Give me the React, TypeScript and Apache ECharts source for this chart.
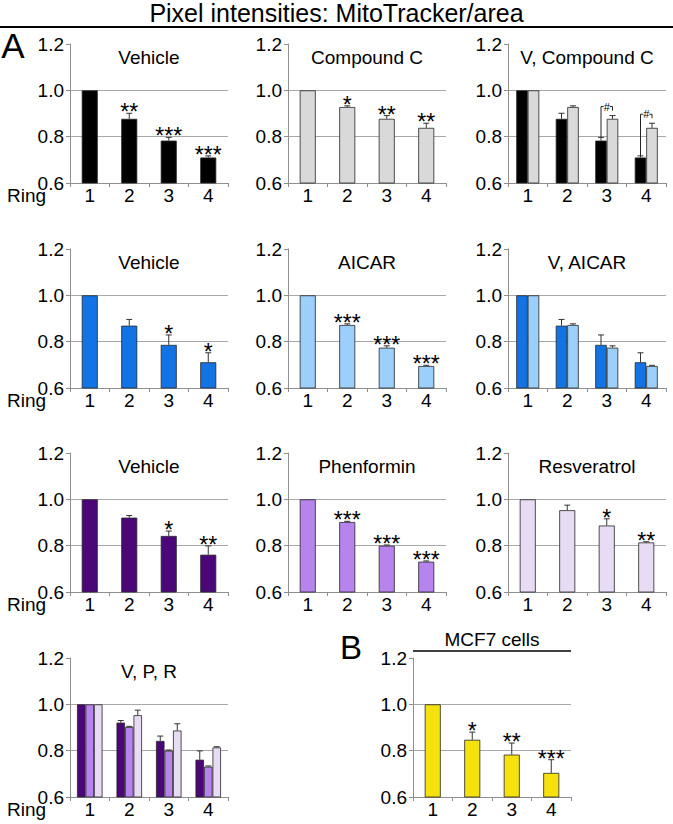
import React, { useEffect, useRef } from 'react';
import * as echarts from 'echarts';

// ---------- data ----------
const rings = ['1', '2', '3', '4'];
const yTickLabels = ['0.6', '0.8', '1.0', '1.2'];

// Row 1: Compound C experiment
const vehicleK = [1.0, 0.877, 0.783, 0.71];
const vehicleKErr = [0, 0.024, 0.014, 0.007];
const vehicleKSig = ['', '**', '***', '***'];
const compoundC = [1.0, 0.928, 0.877, 0.838];
const compoundCErr = [0, 0.005, 0.014, 0.02];
const compoundCSig = ['', '*', '**', '**'];
const vCompoundCSig = ['', '', '#', '#'];

// Row 2: AICAR experiment
const vehicleB = [1.0, 0.869, 0.786, 0.711];
const vehicleBErr = [0, 0.027, 0.043, 0.041];
const vehicleBSig = ['', '', '*', '*'];
const aicar = [1.0, 0.872, 0.774, 0.695];
const aicarErr = [0, 0.005, 0.008, 0.003];
const aicarSig = ['', '***', '***', '***'];

// Row 3: Phenformin / Resveratrol experiment
const vehicleP = [1.0, 0.921, 0.842, 0.761];
const vehiclePErr = [0, 0.009, 0.021, 0.038];
const vehiclePSig = ['', '', '*', '**'];
const phenformin = [1.0, 0.902, 0.8, 0.731];
const phenforminErr = [0, 0.003, 0.003, 0.003];
const phenforminSig = ['', '***', '***', '***'];
const resveratrol = [1.0, 0.953, 0.887, 0.814];
const resveratrolErr = [0, 0.022, 0.029, 0.003];
const resveratrolSig = ['', '', '*', '**'];

// Panel B: MCF7 cells
const mcf7 = [1.0, 0.847, 0.783, 0.704];
const mcf7Err = [0, 0.033, 0.05, 0.057];
const mcf7Sig = ['', '*', '**', '***'];

const noSig = ['', '', '', ''];

// ---------- styles ----------
const FONT = '"Liberation Sans", Arial, Helvetica, sans-serif';
const C_BLACK = '#000000';
const C_GRAY = '#d9d9d9';
const C_BLUE = '#1274e4';
const C_LBLUE = '#9dcffb';
const C_DPURPLE = '#4b0777';
const C_PURPLE = '#b784ee';
const C_LAVENDER = '#e8dcf5';
const C_YELLOW = '#f5e20c';
const AXIS = '#8f8f8f';
const GRID = '#a8a8a8';
const ERR = '#333333';
const FS = 19;

type BarSpec = { values: number[]; errors: number[]; sig: string[]; color: string };
type Panel = {
  title: string;
  left: number;
  top: number;
  bars: BarSpec[];
  ring: boolean;
  bracket?: string[];
};

const W = 158;
const H = 139;
const COLS = [70, 288, 508];
const ROWS = [44, 249, 453, 658];

const panels: Panel[] = [
  { title: 'Vehicle', left: COLS[0], top: ROWS[0], ring: true,
    bars: [{ values: vehicleK, errors: vehicleKErr, sig: vehicleKSig, color: C_BLACK }] },
  { title: 'Compound C', left: COLS[1], top: ROWS[0], ring: false,
    bars: [{ values: compoundC, errors: compoundCErr, sig: compoundCSig, color: C_GRAY }] },
  { title: 'V, Compound C', left: COLS[2], top: ROWS[0], ring: false, bracket: vCompoundCSig,
    bars: [
      { values: vehicleK, errors: vehicleKErr, sig: noSig, color: C_BLACK },
      { values: compoundC, errors: compoundCErr, sig: noSig, color: C_GRAY },
    ] },
  { title: 'Vehicle', left: COLS[0], top: ROWS[1], ring: true,
    bars: [{ values: vehicleB, errors: vehicleBErr, sig: vehicleBSig, color: C_BLUE }] },
  { title: 'AICAR', left: COLS[1], top: ROWS[1], ring: false,
    bars: [{ values: aicar, errors: aicarErr, sig: aicarSig, color: C_LBLUE }] },
  { title: 'V, AICAR', left: COLS[2], top: ROWS[1], ring: false,
    bars: [
      { values: vehicleB, errors: vehicleBErr, sig: noSig, color: C_BLUE },
      { values: aicar, errors: aicarErr, sig: noSig, color: C_LBLUE },
    ] },
  { title: 'Vehicle', left: COLS[0], top: ROWS[2], ring: true,
    bars: [{ values: vehicleP, errors: vehiclePErr, sig: vehiclePSig, color: C_DPURPLE }] },
  { title: 'Phenformin', left: COLS[1], top: ROWS[2], ring: false,
    bars: [{ values: phenformin, errors: phenforminErr, sig: phenforminSig, color: C_PURPLE }] },
  { title: 'Resveratrol', left: COLS[2], top: ROWS[2], ring: false,
    bars: [{ values: resveratrol, errors: resveratrolErr, sig: resveratrolSig, color: C_LAVENDER }] },
  { title: 'V, P, R', left: COLS[0], top: ROWS[3], ring: true,
    bars: [
      { values: vehicleP, errors: vehiclePErr, sig: noSig, color: C_DPURPLE },
      { values: phenformin, errors: phenforminErr, sig: noSig, color: C_PURPLE },
      { values: resveratrol, errors: resveratrolErr, sig: noSig, color: C_LAVENDER },
    ] },
  { title: '', left: 413, top: ROWS[3], ring: false,
    bars: [{ values: mcf7, errors: mcf7Err, sig: mcf7Sig, color: C_YELLOW }] },
];

function barWidthFor(n: number) {
  if (n === 1) return 16;
  if (n === 2) return 11.5;
  return 8.5;
}

function txt(text: string, x: number, y: number, size: number, align = 'center') {
  return {
    type: 'text', x, y,
    style: { text, fill: '#000', font: `${size}px ${FONT}`,
      align, verticalAlign: 'middle', textAlign: align, textVerticalAlign: 'middle' },
  };
}

function buildOption() {
  const yMin = parseFloat(yTickLabels[0]);
  const yMax = parseFloat(yTickLabels[yTickLabels.length - 1]);
  const yStep = parseFloat(yTickLabels[1]) - yMin;

  const grid: any[] = [];
  const xAxis: any[] = [];
  const yAxis: any[] = [];
  const series: any[] = [];
  const graphic: any[] = [];

  panels.forEach((p, i) => {
    grid.push({ left: p.left, top: p.top, width: W, height: H, containLabel: false });
    xAxis.push({
      type: 'category', gridIndex: i, data: rings, boundaryGap: true,
      axisLine: { show: true, lineStyle: { color: AXIS, width: 1 } },
      axisTick: { show: true, length: 4, lineStyle: { color: AXIS } },
      axisLabel: { color: '#000', fontSize: FS, fontFamily: FONT, margin: 3 },
      splitLine: { show: false },
    });
    yAxis.push({
      type: 'value', gridIndex: i, min: yMin, max: yMax, interval: Math.round(yStep * 10) / 10,
      axisLine: { show: true, lineStyle: { color: AXIS, width: 1 } },
      axisTick: { show: true, length: 4, lineStyle: { color: AXIS } },
      axisLabel: { color: '#000', fontSize: FS, fontFamily: FONT, margin: 6,
        formatter: (v: number) => v.toFixed(1) },
      splitLine: { show: true, showMinLine: false, showMaxLine: false,
        lineStyle: { color: GRID, width: 1 } },
    });

    const n = p.bars.length;
    const bw = barWidthFor(n);
    p.bars.forEach((b, j) => {
      series.push({
        type: 'bar', xAxisIndex: i, yAxisIndex: i, data: b.values,
        barWidth: bw, barGap: '0%',
        itemStyle: { color: b.color, borderColor: '#262626', borderWidth: 0.8 },
        z: 2,
      });
      const offset = -n * bw / 2 + bw * (j + 0.5);
      const sig = b.sig;
      series.push({
        type: 'custom', xAxisIndex: i, yAxisIndex: i, z: 5,
        data: b.values.map((v, k) => [k, v, v + b.errors[k]]),
        renderItem: (params: any, api: any) => {
          const k = api.value(0);
          const base = api.coord([k, api.value(1)]);
          const top = api.coord([k, api.value(2)]);
          const x = base[0] + offset;
          const children: any[] = [];
          if (api.value(2) > api.value(1)) {
            children.push({ type: 'line', shape: { x1: x, y1: base[1], x2: x, y2: top[1] },
              style: { stroke: ERR, lineWidth: 1 } });
            children.push({ type: 'line', shape: { x1: x - 3, y1: top[1], x2: x + 3, y2: top[1] },
              style: { stroke: ERR, lineWidth: 1 } });
          }
          const s = sig[params.dataIndex];
          if (s) {
            children.push({ type: 'text', x: x, y: top[1] - 1,
              style: { text: s, fill: '#000', fontSize: 23, fontFamily: FONT,
                align: 'center', verticalAlign: 'middle' } });
          }
          return { type: 'group', children };
        },
      });
    });

    if (p.bracket) {
      const lo = p.bars[0];
      const hi = p.bars[1];
      const br = p.bracket;
      const offL = -n * bw / 2 + bw * 0.5;
      const offR = -n * bw / 2 + bw * 1.5;
      series.push({
        type: 'custom', xAxisIndex: i, yAxisIndex: i, z: 6,
        data: lo.values.map((v, k) => [k, v + lo.errors[k], hi.values[k] + hi.errors[k]]),
        renderItem: (params: any, api: any) => {
          const s = br[params.dataIndex];
          if (!s) return { type: 'group', children: [] };
          const k = api.value(0);
          const a = api.coord([k, api.value(1)]);
          const b = api.coord([k, api.value(2)]);
          const xl = a[0] + offL;
          const xr = a[0] + offR;
          const yt = b[1] - 9;
          const xm = (xl + xr) / 2;
          return {
            type: 'group',
            children: [
              { type: 'polyline', shape: { points: [[xl, a[1]], [xl, yt], [xm - 3, yt]] },
                style: { stroke: '#222', lineWidth: 1, fill: 'none' } },
              { type: 'polyline', shape: { points: [[xm + 3, yt], [xr, yt], [xr, yt + 4]] },
                style: { stroke: '#222', lineWidth: 1, fill: 'none' } },
              { type: 'text', x: xm, y: yt,
                style: { text: s, fill: '#000', fontSize: 11, fontFamily: FONT,
                  align: 'center', verticalAlign: 'middle' } },
            ],
          };
        },
      });
    }

    if (p.title) graphic.push(txt(p.title, p.left + W / 2, p.top + 13, FS));
    if (p.ring) graphic.push(txt('Ring', 7, p.top + H + 12, FS, 'left'));
  });

  graphic.push(
    txt('Pixel intensities: MitoTracker/area', 336.5, 13, 25),
    { type: 'line', shape: { x1: 0, y1: 27, x2: 673, y2: 27 }, style: { stroke: '#000', lineWidth: 2 } },
    txt('A', 13, 45, 35),
    txt('B', 351, 647, 33),
    txt('MCF7 cells', 492, 639, FS),
    { type: 'line', shape: { x1: 413, y1: 651, x2: 571, y2: 651 }, style: { stroke: '#000', lineWidth: 1.5 } },
  );

  return {
    animation: false,
    backgroundColor: '#ffffff',
    grid, xAxis, yAxis, series, graphic,
  };
}

export default function App() {
  const ref = useRef<HTMLDivElement>(null);
  useEffect(() => {
    document.body.style.margin = '0';
    const chart = echarts.init(ref.current as HTMLDivElement, null, { renderer: 'svg' });
    chart.setOption(buildOption() as any);
    return () => chart.dispose();
  }, []);
  return <div ref={ref} style={{ width: 673, height: 824 }} />;
}
